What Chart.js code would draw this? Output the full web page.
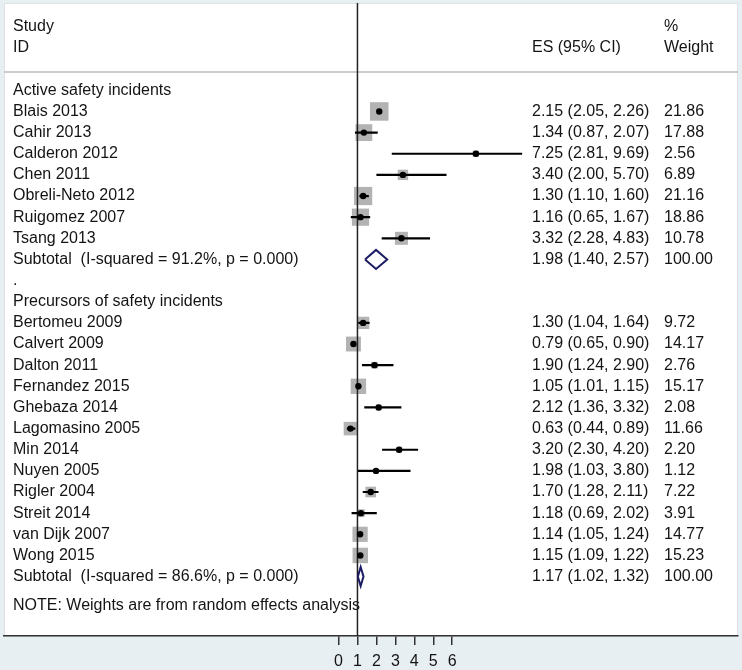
<!DOCTYPE html>
<html>
<head>
<meta charset="utf-8">
<script src="https://cdn.jsdelivr.net/npm/chart.js@4.4.1/dist/chart.umd.min.js"></script>
<style>
  body { margin: 0; background: #e8eff2; }
  canvas { display: block; }
</style>
</head>
<body>
<canvas id="forest" width="742" height="670"></canvas>
<script>
// group 1: active safety incidents
var studies1 = ["Blais 2013", "Cahir 2013", "Calderon 2012", "Chen 2011", "Obreli-Neto 2012", "Ruigomez 2007", "Tsang 2013"];
var es1 = [2.15, 1.34, 7.25, 3.40, 1.30, 1.16, 3.32];
var lo1 = [2.05, 0.87, 2.81, 2.00, 1.10, 0.65, 2.28];
var hi1 = [2.26, 2.07, 9.69, 5.70, 1.60, 1.67, 4.83];
var w1 = [21.86, 17.88, 2.56, 6.89, 21.16, 18.86, 10.78];
var sub1 = [1.98, 1.40, 2.57];
var isq1 = "91.2%";

// group 2: precursors of safety incidents
var studies2 = ["Bertomeu 2009", "Calvert 2009", "Dalton 2011", "Fernandez 2015", "Ghebaza 2014", "Lagomasino 2005",
                "Min 2014", "Nuyen 2005", "Rigler 2004", "Streit 2014", "van Dijk 2007", "Wong 2015"];
var es2 = [1.30, 0.79, 1.90, 1.05, 2.12, 0.63, 3.20, 1.98, 1.70, 1.18, 1.14, 1.15];
var lo2 = [1.04, 0.65, 1.24, 1.01, 1.36, 0.44, 2.30, 1.03, 1.28, 0.69, 1.05, 1.09];
var hi2 = [1.64, 0.90, 2.90, 1.15, 3.32, 0.89, 4.20, 3.80, 2.11, 2.02, 1.24, 1.22];
var w2 = [9.72, 14.17, 2.76, 15.17, 2.08, 11.66, 2.20, 1.12, 7.22, 3.91, 14.77, 15.23];
var sub2 = [1.17, 1.02, 1.32];
var isq2 = "86.6%";

var xTicks = [0, 1, 2, 3, 4, 5, 6];

// row layout (y axis is in row units, top to bottom)
var Y_MIN = -4.13, Y_MAX = 25.81;
var start1 = 1, start2 = 11;
var subRow1 = 8, subRow2 = 23;

var font = '16px "Liberation Sans", Arial, sans-serif';
var ink = '#141414';

var boxes = [], dots = [], cis = [], diamonds = [];
function addGroup(es, lo, hi, w, start) {
    for (var i = 0; i < es.length; i++) {
        var r = start + i;
        boxes.push({x: es[i], y: r, w: w[i]});
        dots.push({x: es[i], y: r});
        cis.push({x: lo[i], y: r}, {x: hi[i], y: r}, {x: null, y: null});
    }
}
addGroup(es1, lo1, hi1, w1, start1);
addGroup(es2, lo2, hi2, w2, start2);

function addDiamond(s, r) {
    var h = 0.45;
    diamonds.push({x: s[1], y: r}, {x: s[0], y: r - h}, {x: s[2], y: r}, {x: s[0], y: r + h}, {x: s[1], y: r}, {x: null, y: null});
}
addDiamond(sub1, subRow1);
addDiamond(sub2, subRow2);

function fmt(v) { return v.toFixed(2); }
function ciText(e, l, h) { return fmt(e) + ' (' + fmt(l) + ', ' + fmt(h) + ')'; }

var panelPlugin = {
    id: 'panel',
    beforeDraw: function (chart) {
        var ctx = chart.ctx, a = chart.chartArea;
        ctx.save();
        ctx.fillStyle = '#e8eff2';
        ctx.fillRect(0, 0, chart.width, chart.height);
        ctx.fillStyle = '#ffffff';
        ctx.fillRect(a.left, a.top, a.right - a.left, a.bottom - a.top);
        ctx.strokeStyle = '#dde2e5';
        ctx.lineWidth = 1;
        ctx.strokeRect(a.left + 0.5, a.top + 0.5, a.right - a.left - 1, a.bottom - a.top);
        var ys = chart.scales.y.getPixelForValue(-0.87);
        ctx.strokeStyle = '#bdbdbd';
        ctx.lineWidth = 1.5;
        ctx.beginPath();
        ctx.moveTo(a.left, ys);
        ctx.lineTo(a.right, ys);
        ctx.stroke();
        ctx.restore();
    }
};

var textPlugin = {
    id: 'forestText',
    beforeDatasetsDraw: function (chart) {
        var ctx = chart.ctx, ys = chart.scales.y;
        var xL = 13, xE = 532, xW = 664;
        ctx.save();
        ctx.font = font;
        ctx.fillStyle = ink;
        ctx.textBaseline = 'middle';
        ctx.textAlign = 'left';
        function t(s, x, r) { ctx.fillText(s, x, ys.getPixelForValue(r)); }

        t('Study', xL, -3); t('ID', xL, -2);
        t('ES (95% CI)', xE, -2);
        t('%', xW, -3); t('Weight', xW, -2);

        t('Active safety incidents', xL, 0);
        for (var i = 0; i < studies1.length; i++) {
            t(studies1[i], xL, start1 + i);
            t(ciText(es1[i], lo1[i], hi1[i]), xE, start1 + i);
            t(fmt(w1[i]), xW, start1 + i);
        }
        t('Subtotal  (I-squared = ' + isq1 + ', p = 0.000)', xL, subRow1);
        t(ciText(sub1[0], sub1[1], sub1[2]), xE, subRow1);
        t('100.00', xW, subRow1);
        t('.', xL, subRow1 + 1);

        t('Precursors of safety incidents', xL, start2 - 1);
        for (var j = 0; j < studies2.length; j++) {
            t(studies2[j], xL, start2 + j);
            t(ciText(es2[j], lo2[j], hi2[j]), xE, start2 + j);
            t(fmt(w2[j]), xW, start2 + j);
        }
        t('Subtotal  (I-squared = ' + isq2 + ', p = 0.000)', xL, subRow2);
        t(ciText(sub2[0], sub2[1], sub2[2]), xE, subRow2);
        t('100.00', xW, subRow2);

        t('NOTE: Weights are from random effects analysis', xL, 24.37);
        ctx.restore();
    }
};

var ctx = document.getElementById('forest').getContext('2d');
var chart = new Chart(ctx, {
    type: 'scatter',
    data: {
        datasets: [
            {
                label: 'estimate',
                data: dots,
                order: 1,
                pointStyle: 'circle',
                pointRadius: 3.2,
                pointHoverRadius: 3.2,
                backgroundColor: '#000',
                borderColor: '#000',
                borderWidth: 0
            },
            {
                label: 'ci',
                type: 'line',
                data: cis,
                order: 2,
                showLine: true,
                spanGaps: false,
                borderColor: '#000',
                borderWidth: 2.2,
                pointRadius: 0,
                pointHoverRadius: 0,
                tension: 0
            },
            {
                label: 'subtotal',
                type: 'line',
                data: diamonds,
                order: 3,
                showLine: true,
                spanGaps: false,
                borderColor: '#1c1c66',
                borderWidth: 2,
                borderJoinStyle: 'miter',
                pointRadius: 0,
                pointHoverRadius: 0,
                tension: 0
            },
            {
                label: 'null',
                type: 'line',
                data: [{x: 1, y: Y_MIN}, {x: 1, y: Y_MAX}],
                order: 4,
                showLine: true,
                borderColor: '#222',
                borderWidth: 1.5,
                pointRadius: 0,
                pointHoverRadius: 0
            },
            {
                label: 'weight',
                data: boxes,
                order: 5,
                pointStyle: 'rect',
                pointRadius: function (c) {
                    var p = c.raw;
                    return p ? 2.8 * Math.sqrt(p.w) : 0;
                },
                pointHoverRadius: function (c) {
                    var p = c.raw;
                    return p ? 2.8 * Math.sqrt(p.w) : 0;
                },
                backgroundColor: '#b3b3b3',
                borderColor: '#b3b3b3',
                borderWidth: 0
            }
        ]
    },
    options: {
        responsive: false,
        animation: false,
        events: [],
        devicePixelRatio: 1,
        layout: { autoPadding: false, padding: { left: 4, right: 4, top: 3, bottom: 0 } },
        plugins: {
            legend: { display: false },
            tooltip: { enabled: false }
        },
        scales: {
            x: {
                type: 'linear',
                min: -17.65,
                max: 21.08,
                afterBuildTicks: function (scale) {
                    scale.ticks = xTicks.map(function (v) { return {value: v}; });
                },
                afterFit: function (scale) { scale.height = 34; },
                border: { display: true, color: '#333', width: 1.5 },
                grid: { drawOnChartArea: false, drawTicks: true, tickLength: 9, color: '#333', lineWidth: 1.5 },
                ticks: {
                    autoSkip: false,
                    maxRotation: 0,
                    padding: 7,
                    color: ink,
                    font: { family: '"Liberation Sans", Arial, sans-serif', size: 16 }
                }
            },
            y: {
                type: 'linear',
                display: false,
                reverse: true,
                min: Y_MIN,
                max: Y_MAX
            }
        }
    },
    plugins: [panelPlugin, textPlugin]
});
</script>
</body>
</html>
